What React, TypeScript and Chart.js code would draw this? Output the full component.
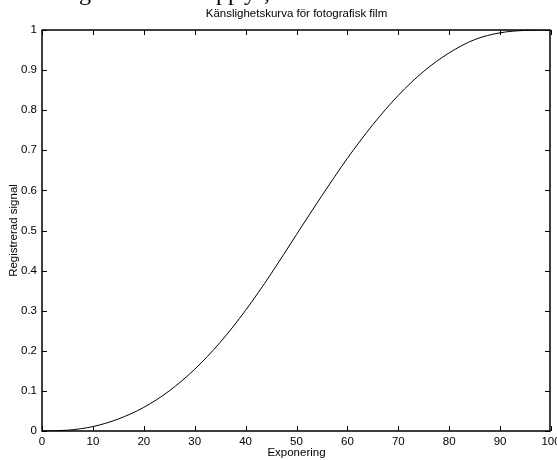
import React, { useEffect, useRef } from 'react';
import { Chart, registerables } from 'chart.js';

Chart.register(...registerables);

const TITLE = 'Känslighetskurva för fotografisk film';
const X_TITLE = 'Exponering';
const Y_TITLE = 'Registrerad signal';

const xValues = [0, 5, 10, 15, 20, 25, 30, 35, 40, 45, 50, 55, 60, 65, 70, 75, 80, 85, 90, 95, 100];
const yValues = [0, 0.002, 0.011, 0.03, 0.059, 0.1, 0.154, 0.221, 0.301, 0.392, 0.49, 0.587, 0.68, 0.764, 0.837, 0.897, 0.943, 0.976, 0.993, 0.999, 1];

const xTicks = [0, 10, 20, 30, 40, 50, 60, 70, 80, 90, 100];
const yTicks = [0, 0.1, 0.2, 0.3, 0.4, 0.5, 0.6, 0.7, 0.8, 0.9, 1];
const yTickLabels = ['0', '0.1', '0.2', '0.3', '0.4', '0.5', '0.6', '0.7', '0.8', '0.9', '1'];

const FONT = '"Liberation Sans", Arial, sans-serif';
const FONT_SIZE = 11.5;

const framePlugin = {
  id: 'matlabFrame',
  afterDraw(chart: any) {
    const { ctx, chartArea: a } = chart;
    const xs = chart.scales.x;
    const ys = chart.scales.y;
    ctx.save();
    ctx.strokeStyle = '#000';
    ctx.lineWidth = 1.5;
    const L = Math.round(a.left);
    const R = Math.round(a.right) - 1;
    const T = Math.round(a.top);
    const B = Math.round(a.bottom);
    ctx.strokeRect(L, T, R - L, B - T);
    const tl = 5;
    ctx.lineWidth = 1;
    ctx.beginPath();
    for (const v of xTicks) {
      const px = Math.round(xs.getPixelForValue(v)) + 0.5;
      ctx.moveTo(px, B);
      ctx.lineTo(px, B - tl);
      ctx.moveTo(px, T);
      ctx.lineTo(px, T + tl);
    }
    for (const v of yTicks) {
      const py = Math.round(ys.getPixelForValue(v)) + 0.5;
      ctx.moveTo(L, py);
      ctx.lineTo(L + tl, py);
      ctx.moveTo(R, py);
      ctx.lineTo(R - tl, py);
    }
    ctx.stroke();

    ctx.fillStyle = '#000';
    ctx.font = `${FONT_SIZE}px ${FONT}`;
    ctx.textAlign = 'center';
    ctx.textBaseline = 'middle';
    const cx = (a.left + a.right) / 2;
    ctx.fillText(TITLE, cx, 14);
    ctx.fillText(X_TITLE, cx, 453);
    ctx.translate(14, (a.top + a.bottom) / 2);
    ctx.rotate(-Math.PI / 2);
    ctx.fillText(Y_TITLE, 0, 0);
    ctx.restore();
  },
};

export default function App() {
  const ref = useRef<HTMLCanvasElement>(null);

  useEffect(() => {
    document.body.style.margin = '0';
    const chart = new Chart(ref.current as HTMLCanvasElement, {
      type: 'line',
      data: {
        datasets: [
          {
            data: xValues.map((x, i) => ({ x, y: yValues[i] })),
            borderColor: '#000',
            borderWidth: 1,
            pointRadius: 0,
            cubicInterpolationMode: 'monotone',
            fill: false,
          },
        ],
      },
      options: {
        responsive: false,
        animation: false,
        devicePixelRatio: 1,
        layout: { padding: { top: 30, right: 6, left: 0, bottom: 0 } },
        plugins: {
          legend: { display: false },
          tooltip: { enabled: false },
          title: { display: false },
        },
        scales: {
          x: {
            type: 'linear',
            min: 0,
            max: 100,
            grid: { display: false, drawTicks: false },
            border: { display: false },
            afterBuildTicks: (s: any) => {
              s.ticks = xTicks.map((v) => ({ value: v }));
            },
            afterFit: (s: any) => {
              s.height = 29;
              s.paddingLeft = 0;
              s.paddingRight = 0;
            },
            ticks: {
              padding: 4,
              color: '#000',
              font: { family: FONT, size: FONT_SIZE },
              maxRotation: 0,
              autoSkip: false,
              callback: (v: any) => String(v),
            },
          },
          y: {
            type: 'linear',
            min: 0,
            max: 1,
            grid: { display: false, drawTicks: false },
            border: { display: false },
            afterBuildTicks: (s: any) => {
              s.ticks = yTicks.map((v) => ({ value: v }));
            },
            afterFit: (s: any) => {
              s.width = 42;
              s.paddingTop = 0;
              s.paddingBottom = 0;
            },
            ticks: {
              padding: 5,
              color: '#000',
              font: { family: FONT, size: FONT_SIZE },
              autoSkip: false,
              callback: (v: any) => {
                const i = yTicks.findIndex((t) => Math.abs(t - v) < 1e-9);
                return i >= 0 ? yTickLabels[i] : '';
              },
            },
          },
        },
      } as any,
      plugins: [framePlugin],
    });
    return () => chart.destroy();
  }, []);

  const serif: React.CSSProperties = {
    position: 'absolute',
    top: -20,
    fontFamily: '"Liberation Serif", "Times New Roman", serif',
    fontSize: 24,
    lineHeight: '24px',
    pointerEvents: 'none',
    whiteSpace: 'pre',
  };

  return (
    <div style={{ position: 'relative', width: 557, height: 460, overflow: 'hidden', background: '#fff' }}>
      <canvas ref={ref} width={557} height={460} style={{ display: 'block' }} />
      <span style={{ ...serif, left: 79 }}>g</span>
      <span style={{ ...serif, left: 216 }}>pp</span>
      <span style={{ ...serif, left: 244 }}>y</span>
      <span style={{ ...serif, left: 264 }}>,</span>
    </div>
  );
}
